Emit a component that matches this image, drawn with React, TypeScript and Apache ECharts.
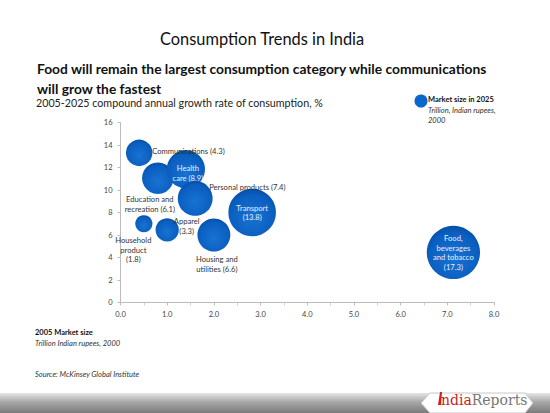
import React, { useEffect, useRef } from "react";
import * as echarts from "echarts";

const categories = [
  "Communications", "Education and\nrecreation", "Health\ncare", "Personal products",
  "Transport", "Household\nproduct", "Apparel", "Housing and\nutilities", "Food,\nbeverages\nand tobacco",
];
const marketSize2005 = [0.4, 0.8, 1.4, 1.6, 2.82, 0.5, 1.0, 2.0, 7.13];
const growthRate = [13.3, 11.05, 11.85, 9.25, 8.0, 7.0, 6.45, 6.0, 4.45];
const marketSize2025 = [4.3, 6.1, 8.9, 7.4, 13.8, 1.8, 3.3, 6.6, 17.3];
const xTicks = ["0.0", "1.0", "2.0", "3.0", "4.0", "5.0", "6.0", "7.0", "8.0"];

// label placement: [offsetX, offsetY, align, inside(white), separator]
const labelStyle: [number, number, string, boolean, string][] = [
  [13, -1.5, "left", false, " "],
  [-8, 26, "center", false, " "],
  [2, 3.5, "center", true, " "],
  [14, -11.5, "left", false, " "],
  [0, 0, "center", true, "\n"],
  [-10.5, 26, "center", false, "\n"],
  [19.5, -4, "center", false, "\n"],
  [3, 29, "center", false, " "],
  [0, 0, "center", true, "\n"],
];

const FONT = "Lato, 'Open Sans', sans-serif";

export default function App() {
  const ref = useRef<HTMLDivElement>(null);
  useEffect(() => {
    if (!ref.current) return;
    const chart = echarts.init(ref.current, undefined, { renderer: "svg" });
    const bubbleColor = new echarts.graphic.RadialGradient(0.5, 0.6, 0.6, [
      { offset: 0, color: "#1873d2" },
      { offset: 0.8, color: "#0a5ec0" },
      { offset: 1, color: "#064fa6" },
    ]);
    const data = categories.map((c, i) => {
      const [dx, dy, align, inside, sep] = labelStyle[i];
      return {
        name: c,
        value: [marketSize2005[i], growthRate[i], marketSize2025[i]],
        label: {
          show: true,
          position: "inside",
          offset: [dx, dy],
          align,
          verticalAlign: "middle",
          formatter: `${c}${sep}(${marketSize2025[i].toFixed(1)})`,
          color: inside ? "#e8f0ff" : "#333",
          fontSize: 7.6,
          lineHeight: 9.7,
          fontFamily: FONT,
        },
      };
    });
    chart.setOption({
      animation: false,
      backgroundColor: "#fff",
      grid: { left: 120.5, right: 56, top: 122.5, bottom: 110.5 },
      xAxis: {
        type: "value",
        min: 0,
        max: 8,
        interval: 1,
        axisLine: { lineStyle: { color: "#bcbcbc" } },
        axisTick: { show: true, lineStyle: { color: "#bcbcbc" }, length: 3 },
        minorTick: { show: true, splitNumber: 2, length: 3, lineStyle: { color: "#d0d0d0" } },
        splitLine: { show: false },
        axisLabel: {
          color: "#444",
          fontSize: 7.5,
          fontFamily: FONT,
          margin: 8,
          formatter: (v: number) => xTicks[Math.round(v)] ?? v.toFixed(1),
        },
      },
      yAxis: {
        type: "value",
        min: 0,
        max: 16,
        interval: 2,
        axisLine: { show: true, lineStyle: { color: "#bcbcbc" } },
        axisTick: { show: true, lineStyle: { color: "#bcbcbc" }, length: 3 },
        splitLine: { show: false },
        axisLabel: { color: "#444", fontSize: 7.5, fontFamily: FONT, margin: 8 },
      },
      series: [
        {
          type: "scatter",
          data,
          symbolSize: (v: number[]) => 12.8 * Math.sqrt(v[2]),
          itemStyle: { color: bubbleColor, opacity: 1 },
          z: 3,
        },
      ],
      graphic: [
        {
          type: "text", left: 160, top: 30,
          style: { text: "Consumption Trends in India", fontSize: 16.4, fontFamily: FONT, fill: "#111" },
        },
        {
          type: "text", left: 37, top: 59,
          style: {
            text: "Food will remain the largest consumption category while communications\nwill grow the fastest",
            fontSize: 13.8, fontWeight: "bold", fontFamily: FONT, fill: "#111", lineHeight: 19.5,
          },
        },
        {
          type: "text", left: 36, top: 97,
          style: { text: "2005-2025 compound annual growth rate of consumption, %", fontSize: 10.7, fontFamily: FONT, fill: "#222" },
        },
        { type: "circle", shape: { cx: 421, cy: 101, r: 6.5 }, style: { fill: "#0a66cc" } },
        {
          type: "text", left: 428, top: 95,
          style: { text: "Market size in 2025", fontSize: 7.5, fontWeight: "bold", fontFamily: FONT, fill: "#111" },
        },
        {
          type: "text", left: 428, top: 105,
          style: { text: "Trillion, Indian rupees,\n2000", fontSize: 7.5, fontStyle: "italic", fontFamily: FONT, fill: "#333", lineHeight: 10 },
        },
        {
          type: "text", left: 35, top: 328,
          style: { text: "2005 Market size", fontSize: 7.5, fontWeight: "bold", fontFamily: FONT, fill: "#111" },
        },
        {
          type: "text", left: 35, top: 339,
          style: { text: "Trillion Indian rupees, 2000", fontSize: 7.5, fontStyle: "italic", fontFamily: FONT, fill: "#333" },
        },
        {
          type: "text", left: 35, top: 370,
          style: { text: "Source: McKinsey Global Institute", fontSize: 7.5, fontStyle: "italic", fontFamily: FONT, fill: "#333" },
        },
        {
          type: "rect", shape: { x: 0, y: 393, width: 550, height: 20 },
          style: {
            fill: new echarts.graphic.LinearGradient(0, 0, 0, 1, [
              { offset: 0, color: "#e6e6e6" },
              { offset: 0.45, color: "#a8a8a8" },
              { offset: 1, color: "#7a7a7a" },
            ]),
          },
        },
        {
          type: "polygon",
          shape: { points: [[430, 393], [525, 393], [533, 403], [525, 413], [430, 413], [421, 403]] },
          style: { fill: "#fff", stroke: "#c8c8c8", lineWidth: 1 },
        },
        {
          type: "polygon",
          shape: { points: [[438, 405], [440, 392], [442, 392], [441, 405]] },
          style: { fill: "#d21f1f" },
        },
        {
          type: "text", left: 441, top: 393,
          style: {
            text: "{r|ndia}{g|Reports}",
            rich: {
              r: { fontSize: 14, fontFamily: "'DejaVu Serif', serif", fill: "#c81e1e" },
              g: { fontSize: 14, fontFamily: "'DejaVu Serif', serif", fill: "#777" },
            },
          },
        },
      ],
    });
    return () => chart.dispose();
  }, []);
  return <div ref={ref} style={{ width: 550, height: 413, position: "absolute", left: 0, top: 0 }} />;
}
